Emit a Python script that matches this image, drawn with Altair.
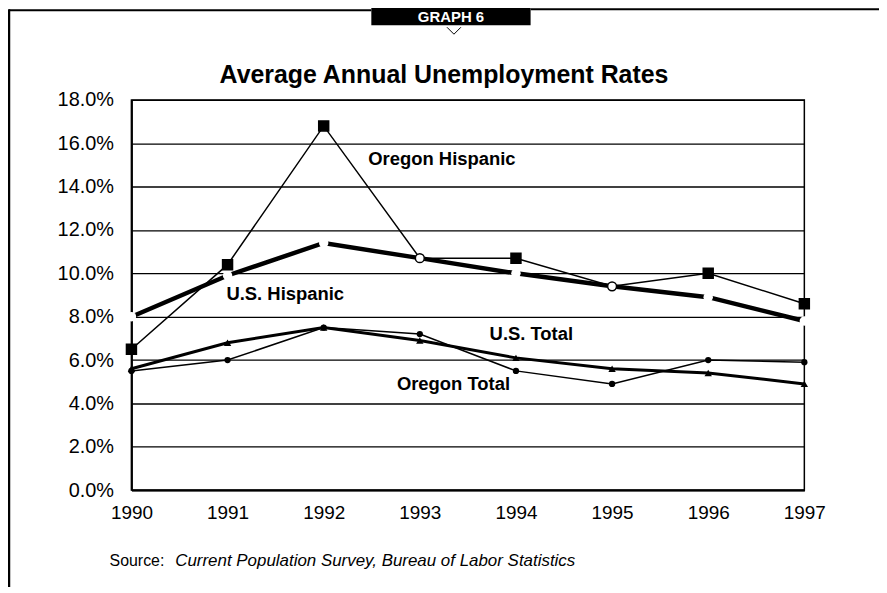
import altair as alt
import pandas as pd

years = [1990, 1991, 1992, 1993, 1994, 1995, 1996, 1997]
oregon_hispanic = [6.5, 10.4, 16.8, 10.7, 10.7, 9.4, 10.0, 8.6]
us_hispanic = [8.0, 9.9, 11.4, 10.7, 10.0, 9.4, 8.9, 7.8]
us_total = [5.6, 6.8, 7.5, 6.9, 6.1, 5.6, 5.4, 4.9]
oregon_total = [5.5, 6.0, 7.5, 7.2, 5.5, 4.9, 6.0, 5.9]
y_ticks = [0, 2, 4, 6, 8, 10, 12, 14, 16, 18]

label_text = ["Oregon Hispanic", "U.S. Hispanic", "U.S. Total", "Oregon Total"]
label_x = [1993.23, 1991.6, 1994.16, 1993.35]
label_y = [15.0, 8.77, 6.93, 4.64]

title_text = "Average Annual Unemployment Rates"
source_lead = "Source:"
source_text = "Current Population Survey, Bureau of Labor Statistics"
graph_tag = "GRAPH 6"

FONT = "Liberation Sans"

def frame(vals, name):
    return pd.DataFrame({"year": years, "value": vals, "series": name})

df_oh = frame(oregon_hispanic, "Oregon Hispanic")
df_uh = frame(us_hispanic, "U.S. Hispanic")
df_ut = frame(us_total, "U.S. Total")
df_ot = frame(oregon_total, "Oregon Total")
df_lab = pd.DataFrame({"label": label_text, "year": label_x, "value": label_y})

xs = alt.X("year:Q", scale=alt.Scale(domain=[1990, 1997], nice=False, zero=False),
           axis=alt.Axis(values=years, format="d", title=None, ticks=False, grid=False,
                         labelFlush=False, labelOverlap=False,
                         labelFontSize=19, labelFont=FONT, labelColor="black",
                         labelPadding=14, domainColor="black", domainWidth=2))
ys = alt.Y("value:Q", scale=alt.Scale(domain=[0, 18], nice=False),
           axis=alt.Axis(values=y_ticks, title=None, ticks=False, grid=True,
                         gridColor="black", gridWidth=1.3, gridOpacity=1,
                         labelFlush=False, labelOverlap=False,
                         labelExpr="format(datum.value, '.1f') + '%'",
                         labelFontSize=20, labelFont=FONT, labelColor="black",
                         labelPadding=18, domainColor="black", domainWidth=2))

uh_line = alt.Chart(df_uh).mark_line(color="black", strokeWidth=4.5).encode(x=xs, y=ys)
uh_gap = alt.Chart(df_uh).mark_point(shape="circle", filled=True, color="white",
                                     size=90, opacity=1).encode(x="year:Q", y="value:Q")

oh_line = alt.Chart(df_oh).mark_line(color="black", strokeWidth=1.5).encode(x="year:Q", y="value:Q")
oh_pts = alt.Chart(df_oh).mark_point(opacity=1, strokeWidth=1.5, stroke="black").encode(
    x="year:Q", y="value:Q",
    shape=alt.condition("datum.year == 1993 || datum.year == 1995", alt.value("circle"), alt.value("square")),
    fill=alt.condition("datum.year == 1993 || datum.year == 1995", alt.value("white"), alt.value("black")),
    size=alt.condition("datum.year == 1993 || datum.year == 1995", alt.value(80), alt.value(100)),
)

ut_line = alt.Chart(df_ut).mark_line(color="black", strokeWidth=3).encode(x="year:Q", y="value:Q")
ut_pts = alt.Chart(df_ut).mark_point(shape="triangle-up", filled=True, color="black",
                                     size=55, opacity=1).encode(x="year:Q", y="value:Q")

ot_line = alt.Chart(df_ot).mark_line(color="black", strokeWidth=1.5).encode(x="year:Q", y="value:Q")
ot_pts = alt.Chart(df_ot).mark_point(shape="circle", filled=True, color="black",
                                     size=40, opacity=1).encode(x="year:Q", y="value:Q")

labels = alt.Chart(df_lab).mark_text(font=FONT, fontSize=18.5, fontWeight="bold",
                                     color="black", align="center", baseline="alphabetic").encode(
    x="year:Q", y="value:Q", text="label:N")

one = alt.Data(values=[{"k": 1}])

def rule(x1, x2, y1, y2, w):
    return alt.Chart(one).mark_rule(color="black", strokeWidth=w).encode(
        x=alt.value(x1), x2=alt.value(x2), y=alt.value(y1), y2=alt.value(y2))

def txt(t, x, y, size, weight="normal", style="normal", color="black", align="left"):
    return alt.Chart(one).mark_text(text=t, font=FONT, fontSize=size, fontWeight=weight,
                                    fontStyle=style, color=color, align=align,
                                    baseline="alphabetic").encode(x=alt.value(x), y=alt.value(y))

left_border = rule(-123, -123, -91, 500, 2.5)
top_left = rule(-123, 241, -90, -90, 2)
top_right = rule(401, 760, -91, -91, 2)
tag_box = alt.Chart(one).mark_rect(color="black").encode(
    x=alt.value(241), x2=alt.value(401), y=alt.value(-95), y2=alt.value(-75))
tag_text = txt(graph_tag, 321, -78, 15, weight="bold", color="white", align="center")
chev1 = rule(317, 324, -73, -66, 1)
chev2 = rule(324, 331, -66, -73, 1)
title = txt(title_text, 314, -17, 25, weight="bold", align="center")
src1 = txt(source_lead, -22, 468, 16)
src2 = txt(source_text, 44, 468, 17, style="italic")

chart = alt.layer(
    uh_line, uh_gap, oh_line, oh_pts, ut_line, ut_pts, ot_line, ot_pts, labels,
    left_border, top_left, top_right, tag_box, tag_text, chev1, chev2, title, src1, src2,
).properties(
    width=676, height=392,
    autosize=alt.AutoSizeParams(type="none"),
    padding={"left": 124, "top": 91, "right": 75, "bottom": 96},
    background="white",
).configure_view(stroke="black", strokeWidth=1.5)

chart.save("out.html", embed_options={"renderer": "svg", "actions": False})
